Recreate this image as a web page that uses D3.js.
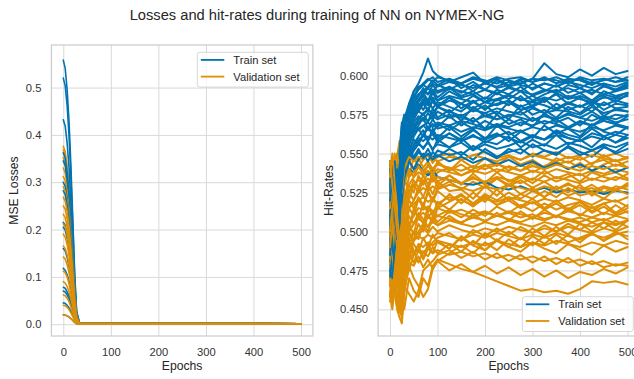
<!DOCTYPE html>
<html>
<head>
<meta charset="utf-8">
<script src="https://cdn.jsdelivr.net/npm/d3@7"></script>
<style>
  body { margin: 0; background: #fff; }
  text { font-family: "Liberation Sans", Arial, sans-serif; }
</style>
</head>
<body>
<svg id="chart" width="634" height="379"></svg>
<script>
// ---- data ----
const epochTicks = [0, 100, 200, 300, 400, 500];
const lossTicks = [0, 0.1, 0.2, 0.3, 0.4, 0.5];
const hitTicks = [0.45, 0.475, 0.5, 0.525, 0.55, 0.575, 0.6];

// MSE losses, one row per run
const lossEpochs = [0, 4, 8, 12, 16, 20, 24, 28, 34, 500];
const lossTrain = [
  [0.558, 0.541, 0.497, 0.430, 0.335, 0.223, 0.106, 0.028, 0.003, 0.001],
  [0.520, 0.504, 0.463, 0.400, 0.312, 0.208, 0.099, 0.026, 0.003, 0.001],
  [0.432, 0.419, 0.384, 0.333, 0.259, 0.173, 0.082, 0.022, 0.002, 0.001],
  [0.362, 0.351, 0.322, 0.279, 0.217, 0.145, 0.069, 0.018, 0.002, 0.001],
  [0.345, 0.335, 0.307, 0.266, 0.207, 0.138, 0.066, 0.017, 0.002, 0.001],
  [0.300, 0.291, 0.267, 0.231, 0.180, 0.120, 0.057, 0.015, 0.002, 0.001],
  [0.282, 0.274, 0.251, 0.217, 0.169, 0.113, 0.054, 0.014, 0.002, 0.001],
  [0.215, 0.209, 0.191, 0.166, 0.129, 0.086, 0.041, 0.011, 0.001, 0.001],
  [0.205, 0.199, 0.182, 0.158, 0.123, 0.082, 0.039, 0.010, 0.001, 0.001],
  [0.160, 0.155, 0.142, 0.123, 0.096, 0.064, 0.030, 0.008, 0.001, 0.001],
  [0.118, 0.114, 0.105, 0.091, 0.071, 0.047, 0.022, 0.006, 0.001, 0.001],
  [0.078, 0.076, 0.069, 0.060, 0.047, 0.031, 0.015, 0.004, 0.001, 0.001],
  [0.070, 0.068, 0.062, 0.054, 0.042, 0.028, 0.013, 0.004, 0.001, 0.001],
  [0.045, 0.044, 0.040, 0.035, 0.027, 0.018, 0.009, 0.002, 0.001, 0.001],
  [0.020, 0.019, 0.018, 0.015, 0.012, 0.008, 0.004, 0.001, 0.001, 0.001]
];
const lossVal = [
  [0.376, 0.365, 0.335, 0.290, 0.226, 0.150, 0.071, 0.019, 0.002, 0.001],
  [0.368, 0.357, 0.328, 0.283, 0.221, 0.147, 0.070, 0.018, 0.002, 0.001],
  [0.352, 0.341, 0.313, 0.271, 0.211, 0.141, 0.067, 0.018, 0.002, 0.001],
  [0.330, 0.320, 0.294, 0.254, 0.198, 0.132, 0.063, 0.017, 0.002, 0.001],
  [0.312, 0.303, 0.278, 0.240, 0.187, 0.125, 0.059, 0.016, 0.002, 0.001],
  [0.290, 0.281, 0.258, 0.223, 0.174, 0.116, 0.055, 0.015, 0.002, 0.001],
  [0.268, 0.260, 0.239, 0.206, 0.161, 0.107, 0.051, 0.013, 0.002, 0.001],
  [0.250, 0.243, 0.223, 0.193, 0.150, 0.100, 0.048, 0.013, 0.002, 0.001],
  [0.232, 0.225, 0.206, 0.179, 0.139, 0.093, 0.044, 0.012, 0.001, 0.001],
  [0.212, 0.206, 0.189, 0.163, 0.127, 0.085, 0.040, 0.011, 0.001, 0.001],
  [0.190, 0.184, 0.169, 0.146, 0.114, 0.076, 0.036, 0.010, 0.001, 0.001],
  [0.165, 0.160, 0.147, 0.127, 0.099, 0.066, 0.031, 0.008, 0.001, 0.001],
  [0.142, 0.138, 0.126, 0.109, 0.085, 0.057, 0.027, 0.007, 0.001, 0.001],
  [0.112, 0.109, 0.100, 0.086, 0.067, 0.045, 0.021, 0.006, 0.001, 0.001],
  [0.090, 0.087, 0.080, 0.069, 0.054, 0.036, 0.017, 0.005, 0.001, 0.001],
  [0.062, 0.060, 0.055, 0.048, 0.037, 0.025, 0.012, 0.003, 0.001, 0.001],
  [0.040, 0.039, 0.036, 0.031, 0.024, 0.016, 0.008, 0.002, 0.001, 0.001],
  [0.020, 0.019, 0.018, 0.015, 0.012, 0.008, 0.004, 0.001, 0.001, 0.001]
];

// hit-rates in thousandths, one row per run
const hitEpochs = [0, 5, 10, 15, 20, 25, 30, 40, 50, 60, 70, 80, 90, 100, 125, 150, 175,
  200, 225, 250, 275, 300, 325, 350, 375, 400, 425, 450, 475, 500];
const hitTrain = [
  [520, 505, 530, 515, 540, 565, 570, 578, 590, 595, 602, 611, 603, 600, 596, 599, 602, 595, 598, 594, 598, 596, 599, 595, 598, 597, 594, 598, 596, 599],
  [490, 475, 480, 500, 520, 555, 568, 575, 582, 588, 590, 593, 597, 594, 598, 592, 596, 591, 597, 593, 595, 598, 608, 601, 599, 604, 600, 605, 601, 603],
  [540, 525, 510, 530, 545, 560, 555, 570, 580, 585, 589, 584, 591, 586, 592, 587, 590, 585, 591, 588, 593, 587, 590, 594, 589, 592, 588, 594, 590, 593],
  [470, 480, 472, 490, 510, 540, 550, 565, 572, 578, 583, 577, 585, 580, 586, 579, 584, 578, 585, 581, 587, 580, 584, 588, 582, 586, 581, 587, 583, 588],
  [530, 515, 500, 485, 505, 530, 545, 555, 565, 572, 576, 570, 579, 573, 578, 571, 580, 574, 577, 572, 581, 575, 578, 573, 580, 576, 582, 574, 579, 577],
  [505, 520, 495, 510, 530, 548, 560, 556, 564, 568, 573, 566, 572, 567, 574, 568, 573, 566, 575, 569, 572, 567, 576, 570, 573, 568, 575, 571, 569, 574],
  [485, 470, 490, 475, 500, 520, 540, 548, 556, 561, 565, 558, 566, 560, 567, 561, 566, 559, 568, 562, 565, 560, 568, 563, 566, 561, 569, 564, 562, 567],
  [535, 510, 525, 500, 515, 535, 548, 545, 552, 557, 553, 558, 552, 559, 554, 560, 553, 558, 556, 561, 554, 559, 555, 562, 556, 559, 554, 561, 557, 560],
  [500, 485, 475, 495, 520, 545, 538, 552, 546, 551, 548, 553, 547, 552, 549, 551, 546, 553, 548, 551, 553, 548, 552, 550, 554, 549, 552, 555, 550, 553],
  [515, 500, 520, 505, 525, 540, 535, 540, 538, 543, 539, 536, 540, 535, 533, 531, 530, 532, 528, 527, 529, 526, 528, 525, 527, 525, 526, 524, 526, 525],
  [478, 492, 505, 520, 540, 562, 572, 580, 586, 591, 594, 597, 599, 596, 598, 595, 599, 597, 595, 598, 599, 596, 598, 597, 595, 599, 597, 598, 596, 597],
  [525, 540, 515, 530, 550, 568, 575, 571, 577, 582, 578, 584, 579, 583, 580, 577, 583, 579, 582, 584, 578, 581, 585, 579, 583, 580, 584, 578, 582, 581],
  [495, 480, 470, 485, 500, 525, 542, 550, 561, 566, 561, 567, 562, 559, 563, 558, 562, 557, 561, 564, 558, 562, 559, 564, 560, 558, 563, 561, 557, 562],
  [510, 530, 520, 505, 495, 515, 540, 562, 575, 583, 587, 582, 589, 584, 590, 586, 588, 583, 589, 585, 590, 584, 588, 591, 586, 589, 584, 590, 587, 589],
  [545, 530, 518, 535, 550, 570, 565, 575, 583, 587, 592, 588, 594, 590, 593, 589, 594, 591, 588, 593, 590, 595, 591, 589, 594, 592, 589, 593, 591, 594],
  [480, 495, 485, 470, 490, 510, 530, 545, 553, 558, 562, 567, 563, 569, 565, 570, 566, 571, 567, 572, 568, 573, 569, 572, 567, 571, 568, 573, 570, 572],
  [520, 500, 510, 528, 515, 535, 555, 565, 570, 574, 571, 576, 572, 577, 573, 575, 570, 576, 572, 574, 577, 571, 575, 572, 576, 573, 577, 572, 575, 574],
  [500, 515, 530, 510, 525, 550, 562, 560, 568, 572, 575, 579, 574, 580, 576, 582, 577, 581, 575, 583, 578, 580, 576, 582, 578, 581, 577, 583, 579, 580],
  [475, 490, 480, 495, 510, 530, 548, 545, 540, 546, 550, 545, 551, 548, 553, 549, 555, 551, 547, 553, 550, 556, 552, 549, 555, 551, 548, 554, 551, 556],
  [530, 545, 525, 515, 535, 555, 563, 570, 578, 584, 588, 592, 589, 594, 591, 595, 590, 596, 592, 594, 597, 591, 595, 593, 597, 592, 596, 594, 591, 595],
  [490, 505, 495, 480, 500, 520, 535, 552, 559, 556, 562, 558, 564, 557, 563, 559, 565, 560, 563, 558, 564, 561, 559, 565, 562, 560, 566, 561, 564, 562],
  [510, 495, 505, 520, 535, 558, 568, 574, 580, 577, 582, 578, 585, 581, 586, 582, 587, 583, 585, 588, 584, 587, 583, 589, 585, 587, 584, 588, 586, 589],
  [525, 510, 495, 505, 520, 540, 552, 558, 563, 566, 568, 565, 569, 566, 568, 564, 567, 565, 568, 566, 564, 567, 565, 568, 566, 564, 567, 565, 568, 566],
  [495, 510, 525, 515, 530, 550, 548, 555, 552, 556, 554, 557, 553, 556, 554, 557, 552, 556, 553, 555, 558, 554, 556, 553, 557, 555, 552, 556, 554, 557],
  [540, 520, 505, 490, 510, 535, 560, 570, 575, 577, 575, 578, 576, 580, 577, 574, 578, 576, 579, 577, 575, 579, 576, 578, 577, 575, 580, 576, 578, 577],
  [470, 485, 500, 520, 540, 560, 570, 580, 585, 588, 590, 588, 591, 589, 592, 590, 588, 591, 589, 592, 590, 588, 591, 590, 592, 589, 591, 588, 590, 592],
  [510, 525, 540, 530, 520, 545, 558, 566, 572, 578, 584, 581, 583, 580, 584, 582, 579, 583, 581, 584, 580, 583, 581, 578, 582, 580, 583, 581, 584, 582],
  [485, 500, 490, 510, 530, 550, 565, 575, 587, 592, 595, 598, 596, 599, 597, 595, 598, 596, 599, 597, 595, 598, 597, 599, 596, 598, 595, 597, 599, 597],
  [530, 515, 525, 540, 530, 548, 545, 550, 555, 560, 558, 561, 559, 562, 560, 558, 561, 559, 562, 560, 557, 561, 559, 562, 560, 558, 561, 559, 562, 560],
  [505, 490, 480, 500, 525, 555, 560, 568, 575, 580, 585, 583, 586, 584, 587, 585, 583, 586, 584, 587, 585, 583, 586, 584, 587, 585, 583, 586, 585, 587],
  [475, 470, 488, 505, 515, 535, 550, 560, 566, 570, 573, 571, 574, 572, 575, 573, 571, 574, 572, 575, 573, 571, 574, 572, 575, 573, 571, 574, 572, 575],
  [545, 535, 545, 525, 540, 560, 572, 582, 590, 593, 594, 592, 595, 593, 596, 594, 592, 595, 593, 596, 594, 592, 595, 593, 596, 594, 592, 595, 593, 596],
  [500, 520, 505, 490, 505, 530, 545, 552, 548, 553, 547, 550, 546, 549, 545, 548, 544, 547, 543, 546, 542, 545, 541, 544, 540, 543, 539, 542, 538, 541],
  [520, 535, 510, 495, 515, 540, 556, 562, 568, 565, 568, 570, 567, 570, 568, 571, 569, 566, 569, 567, 570, 568, 571, 569, 566, 570, 568, 571, 569, 567]
];
const hitVal = [
  [545, 530, 540, 548, 558, 530, 545, 535, 548, 541, 546, 549, 544, 548, 550, 546, 549, 551, 547, 549, 546, 550, 548, 551, 547, 549, 552, 548, 550, 547],
  [520, 505, 525, 510, 535, 500, 520, 530, 525, 536, 530, 539, 533, 538, 541, 536, 540, 543, 538, 542, 539, 544, 540, 543, 545, 541, 544, 546, 542, 545],
  [498, 515, 490, 505, 485, 470, 495, 515, 510, 521, 515, 526, 520, 528, 532, 527, 532, 528, 534, 530, 535, 531, 536, 532, 535, 537, 533, 536, 538, 534],
  [465, 480, 460, 450, 445, 441, 460, 480, 495, 505, 500, 511, 506, 515, 519, 523, 518, 524, 520, 525, 521, 526, 522, 527, 523, 526, 528, 524, 527, 529],
  [475, 460, 470, 455, 448, 460, 450, 470, 462, 458, 470, 465, 478, 482, 479, 476, 474, 471, 468, 465, 462, 463, 461, 462, 460, 463, 468, 467, 468, 466],
  [510, 495, 480, 470, 460, 448, 470, 490, 500, 495, 505, 500, 510, 506, 513, 509, 514, 510, 516, 512, 517, 513, 518, 514, 517, 519, 515, 518, 520, 516],
  [535, 520, 500, 485, 470, 455, 475, 495, 485, 491, 482, 489, 493, 496, 499, 494, 501, 497, 502, 498, 503, 499, 504, 500, 505, 501, 506, 502, 507, 503],
  [458, 470, 462, 475, 455, 450, 465, 460, 455, 462, 475, 478, 481, 485, 488, 483, 487, 482, 486, 481, 485, 480, 484, 479, 483, 478, 481, 477, 479, 478],
  [525, 540, 515, 530, 505, 520, 535, 525, 533, 528, 536, 530, 537, 532, 536, 531, 535, 530, 534, 529, 533, 528, 532, 527, 531, 526, 530, 525, 529, 527],
  [490, 475, 495, 480, 465, 478, 490, 505, 498, 511, 505, 516, 510, 519, 514, 521, 516, 522, 517, 520, 515, 519, 514, 518, 513, 517, 512, 516, 511, 515],
  [505, 490, 510, 495, 480, 465, 485, 500, 492, 487, 496, 490, 498, 493, 489, 496, 491, 488, 494, 490, 487, 493, 489, 486, 492, 488, 485, 491, 487, 490],
  [540, 525, 545, 535, 520, 540, 530, 546, 540, 547, 541, 545, 540, 544, 539, 543, 538, 542, 544, 539, 543, 538, 542, 545, 540, 544, 539, 543, 546, 541],
  [480, 495, 475, 460, 450, 445, 462, 478, 470, 465, 458, 463, 476, 481, 486, 491, 486, 493, 488, 495, 490, 497, 492, 498, 493, 496, 499, 494, 498, 500],
  [530, 548, 520, 505, 490, 475, 500, 520, 530, 525, 533, 527, 535, 529, 536, 530, 537, 531, 538, 532, 536, 533, 539, 534, 537, 532, 538, 535, 533, 537],
  [470, 485, 500, 490, 470, 455, 480, 500, 515, 508, 518, 512, 522, 516, 524, 518, 525, 519, 527, 520, 524, 521, 526, 522, 528, 523, 525, 521, 527, 524],
  [500, 520, 535, 515, 495, 480, 510, 525, 520, 528, 522, 530, 524, 532, 526, 527, 521, 529, 523, 530, 524, 528, 522, 529, 525, 530, 523, 528, 526, 531],
  [460, 475, 465, 480, 470, 462, 475, 485, 480, 488, 483, 492, 486, 494, 489, 497, 491, 499, 494, 500, 495, 502, 497, 503, 498, 505, 500, 506, 501, 507],
  [515, 500, 485, 500, 515, 525, 510, 520, 515, 522, 517, 525, 519, 526, 520, 524, 518, 523, 517, 522, 516, 521, 515, 520, 514, 519, 513, 518, 512, 517],
  [545, 535, 550, 540, 525, 510, 530, 540, 535, 542, 536, 543, 537, 545, 539, 546, 541, 547, 542, 548, 543, 546, 541, 547, 544, 548, 543, 549, 545, 547],
  [485, 470, 480, 500, 490, 470, 488, 495, 488, 480, 487, 484, 490, 486, 492, 487, 494, 488, 495, 490, 496, 491, 497, 492, 498, 493, 499, 494, 500, 495],
  [495, 510, 525, 540, 530, 505, 490, 510, 505, 512, 508, 503, 509, 504, 510, 505, 511, 506, 512, 507, 513, 508, 514, 509, 515, 510, 516, 511, 517, 512],
  [468, 455, 470, 485, 475, 460, 470, 480, 478, 484, 477, 482, 476, 481, 475, 479, 474, 478, 473, 477, 472, 476, 471, 475, 470, 474, 472, 476, 473, 477],
  [540, 525, 535, 550, 540, 525, 540, 548, 545, 548, 546, 549, 547, 545, 548, 546, 549, 547, 545, 548, 546, 549, 547, 545, 548, 546, 549, 547, 545, 548],
  [510, 525, 540, 520, 505, 490, 515, 530, 535, 538, 536, 539, 537, 540, 538, 536, 539, 537, 540, 538, 536, 539, 537, 540, 538, 536, 539, 537, 540, 538],
  [480, 465, 490, 505, 495, 480, 500, 515, 520, 525, 528, 526, 529, 527, 530, 528, 526, 529, 527, 530, 528, 526, 529, 527, 530, 528, 526, 529, 527, 530],
  [500, 485, 470, 490, 500, 485, 505, 515, 518, 520, 522, 519, 521, 518, 522, 520, 517, 521, 519, 522, 520, 518, 521, 519, 522, 520, 517, 521, 519, 522],
  [530, 510, 495, 475, 460, 470, 490, 500, 505, 510, 512, 509, 513, 510, 514, 511, 509, 512, 510, 513, 511, 509, 512, 510, 513, 511, 509, 512, 510, 513],
  [455, 465, 480, 470, 458, 450, 470, 485, 495, 500, 505, 503, 506, 504, 507, 505, 503, 506, 504, 507, 505, 503, 506, 504, 507, 505, 503, 506, 504, 507],
  [520, 535, 520, 500, 480, 462, 485, 495, 500, 498, 502, 499, 503, 500, 504, 501, 499, 502, 500, 503, 501, 499, 502, 500, 503, 501, 499, 502, 500, 503],
  [490, 505, 490, 475, 465, 458, 478, 490, 494, 497, 495, 498, 496, 499, 497, 495, 498, 496, 499, 497, 495, 498, 496, 499, 497, 495, 498, 496, 499, 497],
  [470, 460, 475, 490, 480, 465, 480, 482, 486, 488, 487, 489, 486, 488, 485, 487, 484, 486, 483, 485, 482, 484, 481, 483, 480, 482, 479, 481, 478, 480],
  [535, 550, 530, 515, 500, 488, 510, 525, 530, 533, 531, 534, 532, 535, 533, 531, 534, 532, 535, 533, 531, 534, 532, 535, 533, 531, 534, 532, 535, 533],
  [515, 530, 505, 490, 475, 460, 482, 500, 505, 508, 506, 509, 507, 510, 508, 506, 509, 507, 510, 508, 506, 509, 507, 510, 508, 506, 509, 507, 510, 508],
  [500, 515, 525, 510, 495, 505, 520, 535, 538, 541, 539, 542, 540, 543, 541, 539, 542, 540, 543, 541, 539, 542, 540, 543, 541, 539, 542, 540, 543, 541],
  [460, 450, 465, 478, 468, 455, 465, 475, 485, 492, 490, 493, 491, 494, 492, 490, 493, 491, 494, 492, 490, 493, 491, 494, 492, 490, 493, 491, 494, 492],
  [545, 530, 515, 500, 485, 470, 490, 505, 510, 515, 514, 516, 513, 515, 512, 514, 511, 513, 510, 512, 509, 511, 508, 510, 507, 509, 506, 508, 505, 507]
];

// ---- drawing ----
const svg = d3.select("#chart");
const blue = "#0173b2", orange = "#de8f05";
const plotTop = 45, plotBottom = 336;

svg.append("text")
  .attr("x", 317).attr("y", 19.5)
  .attr("text-anchor", "middle")
  .attr("font-size", 14.7)
  .attr("fill", "#262626")
  .text("Losses and hit-rates during training of NN on NYMEX-NG");

function drawPanel(p) {
  const x = d3.scaleLinear().domain([-25, 525]).range([p.x0, p.x1]);
  const y = d3.scaleLinear().domain(p.yDomain).range([plotBottom, plotTop]);
  const g = svg.append("g");

  const xAxis = g.append("g")
    .attr("transform", `translate(0,${plotBottom})`)
    .call(d3.axisBottom(x).tickValues(epochTicks).tickSize(-(plotBottom - plotTop)).tickPadding(12));
  const yAxis = g.append("g")
    .attr("transform", `translate(${p.x0},0)`)
    .call(d3.axisLeft(y).tickValues(p.ticks).tickFormat(p.fmt).tickSize(-(p.x1 - p.x0)).tickPadding(10));
  [xAxis, yAxis].forEach(a => {
    a.select(".domain").remove();
    a.selectAll(".tick line").attr("stroke", "#d9d9d9").attr("stroke-width", 1);
    a.selectAll(".tick text")
      .attr("fill", "#333")
      .attr("font-size", 11.2)
      .attr("font-family", "'Liberation Sans', Arial, sans-serif");
  });

  g.append("rect")
    .attr("x", p.x0).attr("y", plotTop)
    .attr("width", p.x1 - p.x0).attr("height", plotBottom - plotTop)
    .attr("fill", "none").attr("stroke", "#cccccc").attr("stroke-width", 1.25);

  g.append("text")
    .attr("x", (p.x0 + p.x1) / 2).attr("y", 369.5)
    .attr("text-anchor", "middle").attr("font-size", 12.2).attr("fill", "#262626")
    .text("Epochs");
  g.append("text")
    .attr("transform", `translate(${p.labelX},${(plotTop + plotBottom) / 2}) rotate(-90)`)
    .attr("text-anchor", "middle").attr("font-size", 12.2).attr("fill", "#262626")
    .text(p.ylabel);

  const clipId = "clip" + p.id;
  svg.append("clipPath").attr("id", clipId)
    .append("rect").attr("x", p.x0).attr("y", plotTop)
    .attr("width", p.x1 - p.x0).attr("height", plotBottom - plotTop);

  const line = d3.line()
    .defined((d, i) => i < p.epochs.length)
    .x((d, i) => x(p.epochs[i]))
    .y(d => y(d * p.unit));
  const lines = g.append("g").attr("clip-path", `url(#${clipId})`)
    .attr("fill", "none").attr("stroke-width", p.lineWidth)
    .attr("stroke-linejoin", "round").attr("stroke-linecap", "round");
  const n = Math.max(p.train.length, p.val.length);
  for (let i = 0; i < n; i++) {
    if (p.train[i]) lines.append("path").attr("d", line(p.train[i])).attr("stroke", blue);
    if (p.val[i]) lines.append("path").attr("d", line(p.val[i])).attr("stroke", orange);
  }

  // legend
  const lg = g.append("g").attr("transform", `translate(${p.legX},${p.legY})`);
  lg.append("rect")
    .attr("width", 111).attr("height", 34.8).attr("rx", 2.5)
    .attr("fill", "#fff").attr("fill-opacity", 0.8)
    .attr("stroke", "#d6d6d6").attr("stroke-width", 1);
  [["Train set", blue, 7.6], ["Validation set", orange, 24.3]].forEach(([label, c, cy]) => {
    lg.append("line").attr("x1", 3.5).attr("x2", 27).attr("y1", cy).attr("y2", cy)
      .attr("stroke", c).attr("stroke-width", 1.8);
    lg.append("text").attr("x", 36).attr("y", cy + 4)
      .attr("font-size", 11.2).attr("fill", "#262626").text(label);
  });
}

drawPanel({
  id: "loss", x0: 51.4, x1: 312.9,
  yDomain: [-0.0249, 0.5899], ticks: lossTicks, fmt: d3.format(".1f"),
  ylabel: "MSE Losses", labelX: 18, lineWidth: 1.6,
  epochs: lossEpochs, train: lossTrain, val: lossVal, unit: 1,
  legX: 197.3, legY: 52.3
});
drawPanel({
  id: "hit", x0: 378.1, x1: 639.4,
  yDomain: [0.4329, 0.6197], ticks: hitTicks, fmt: d3.format(".3f"),
  ylabel: "Hit-Rates", labelX: 333, lineWidth: 2,
  epochs: hitEpochs, train: hitTrain, val: hitVal, unit: 0.001,
  legX: 522.3, legY: 296.7
});
</script>
</body>
</html>
